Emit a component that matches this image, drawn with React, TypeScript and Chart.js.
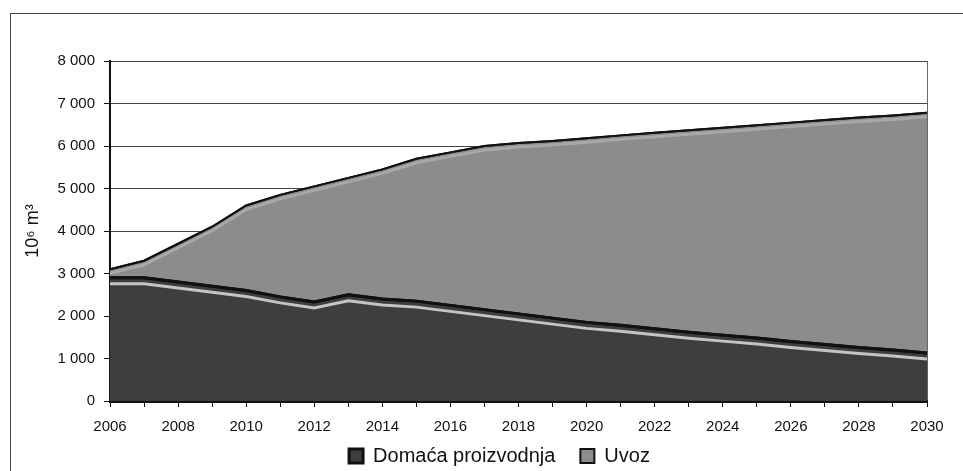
import React, { useEffect, useRef } from 'react';
import { Chart, registerables } from 'chart.js';

Chart.register(...registerables);

const years = [
  '2006', '2007', '2008', '2009', '2010', '2011', '2012', '2013', '2014', '2015', '2016', '2017', '2018',
  '2019', '2020', '2021', '2022', '2023', '2024', '2025', '2026', '2027', '2028', '2029', '2030',
];
const domacaProizvodnja = [
  2900, 2900, 2800, 2700, 2600, 2450, 2330, 2500, 2400, 2350, 2250, 2150, 2050,
  1950, 1850, 1780, 1700, 1620, 1550, 1480, 1400, 1330, 1260, 1200, 1130,
];
const uvoz = [
  200, 400, 900, 1400, 2000, 2400, 2720, 2750, 3050, 3350, 3600, 3850, 4020,
  4170, 4330, 4470, 4610, 4750, 4880, 5010, 5150, 5280, 5410, 5520, 5650,
];
const seriesNames = ['Domaća proizvodnja', 'Uvoz'];
const yTitle = '10⁶ m³';

const FONT = '"Liberation Sans", Arial, sans-serif';

const highlightPlugin = {
  id: 'highlight',
  afterLayout(chart: any) {
    const lg = chart.legend;
    if (lg) {
      lg.top = 421;
      lg.bottom = 471;
      lg.height = 50;
      lg.left += 30;
      lg.right += 30;
    }
  },
  afterDatasetsDraw(chart: any) {
    const ctx = chart.ctx;
    const area = chart.chartArea;
    ctx.save();
    ctx.beginPath();
    ctx.rect(area.left, area.top, area.right - area.left, area.bottom - area.top);
    ctx.clip();
    const specs = [
      { idx: 0, off: 6, color: '#c4c4c4', w: 3 },
      { idx: 1, off: 4, color: '#a8a8a8', w: 3 },
    ];
    for (const s of specs) {
      const pts = chart.getDatasetMeta(s.idx).data;
      ctx.beginPath();
      pts.forEach((p: any, i: number) => {
        if (i === 0) ctx.moveTo(p.x, p.y + s.off);
        else ctx.lineTo(p.x, p.y + s.off);
      });
      ctx.strokeStyle = s.color;
      ctx.lineWidth = s.w;
      ctx.stroke();
    }
    const tops = [
      { idx: 0, w: 3 },
      { idx: 1, w: 2 },
    ];
    for (const s of tops) {
      const pts = chart.getDatasetMeta(s.idx).data;
      ctx.beginPath();
      pts.forEach((p: any, i: number) => {
        if (i === 0) ctx.moveTo(p.x, p.y);
        else ctx.lineTo(p.x, p.y);
      });
      ctx.strokeStyle = '#111';
      ctx.lineWidth = s.w;
      ctx.stroke();
    }
    ctx.restore();
  },
};

export default function App() {
  const ref = useRef<HTMLCanvasElement>(null);

  useEffect(() => {
    if (!ref.current) return;
    const chart = new Chart(ref.current, {
      type: 'line',
      data: {
        labels: years,
        datasets: [
          {
            label: seriesNames[0],
            data: domacaProizvodnja,
            backgroundColor: '#3e3e3e',
            borderColor: '#111',
            borderWidth: 3,
            fill: 'origin',
            pointRadius: 0,
            tension: 0,
          },
          {
            label: seriesNames[1],
            data: uvoz,
            backgroundColor: '#8c8c8c',
            borderColor: '#111',
            borderWidth: 2,
            fill: '-1',
            pointRadius: 0,
            tension: 0,
          },
        ],
      },
      options: {
        animation: false,
        responsive: false,
        maintainAspectRatio: false,
        layout: { padding: { left: 12, right: 36, top: 61, bottom: 0 } },
        plugins: {
          legend: {
            position: 'bottom',
            maxHeight: 36,
            labels: {
              boxWidth: 14,
              boxHeight: 14,
              padding: 25,
              color: '#111',
              font: { family: FONT, size: 20 },
            },
          },
          tooltip: { enabled: false },
        },
        scales: {
          x: {
            stacked: true,
            offset: false,
            afterFit: (s: any) => {
              s.height = 34;
            },
            grid: {
              drawOnChartArea: true,
              color: (c: any) => (c.index === years.length - 1 ? '#666' : 'rgba(0,0,0,0)'),
              tickColor: '#111',
              tickLength: 6,
              lineWidth: 1,
            },
            border: { display: true, color: '#111', width: 3 },
            ticks: {
              autoSkip: false,
              maxRotation: 0,
              padding: 11,
              color: '#111',
              font: { family: FONT, size: 15 },
              callback: (_v: any, i: number) => (i % 2 === 0 ? years[i] : ''),
            },
          },
          y: {
            stacked: true,
            min: 0,
            max: 8000,
            afterFit: (s: any) => {
              s.width = 98;
            },
            grid: {
              color: '#444',
              tickColor: '#111',
              tickLength: 6,
              lineWidth: 1,
            },
            border: { display: true, color: '#111', width: 2 },
            ticks: {
              stepSize: 1000,
              padding: 9,
              color: '#111',
              font: { family: FONT, size: 15 },
              callback: (v: any) => {
                const n = Number(v);
                if (n === 0) return '0';
                return `${Math.floor(n / 1000)} ${String(n % 1000).padStart(3, '0')}`;
              },
            },
            title: {
              display: true,
              text: yTitle,
              color: '#111',
              font: { family: FONT, size: 18 },
              padding: { top: 10, bottom: 0 },
            },
          },
        },
      },
      plugins: [highlightPlugin],
    } as any);
    return () => chart.destroy();
  }, []);

  return (
    <div style={{ position: 'absolute', left: 0, top: 0, width: 963, height: 471, background: '#fff' }}>
      <div
        style={{
          position: 'absolute',
          left: 10,
          top: 13,
          width: 953,
          height: 458,
          borderLeft: '1.5px solid #444',
          borderTop: '1.5px solid #444',
          boxSizing: 'border-box',
        }}
      />
      <canvas ref={ref} width={963} height={471} style={{ position: 'absolute', left: 0, top: 0 }} />
    </div>
  );
}
